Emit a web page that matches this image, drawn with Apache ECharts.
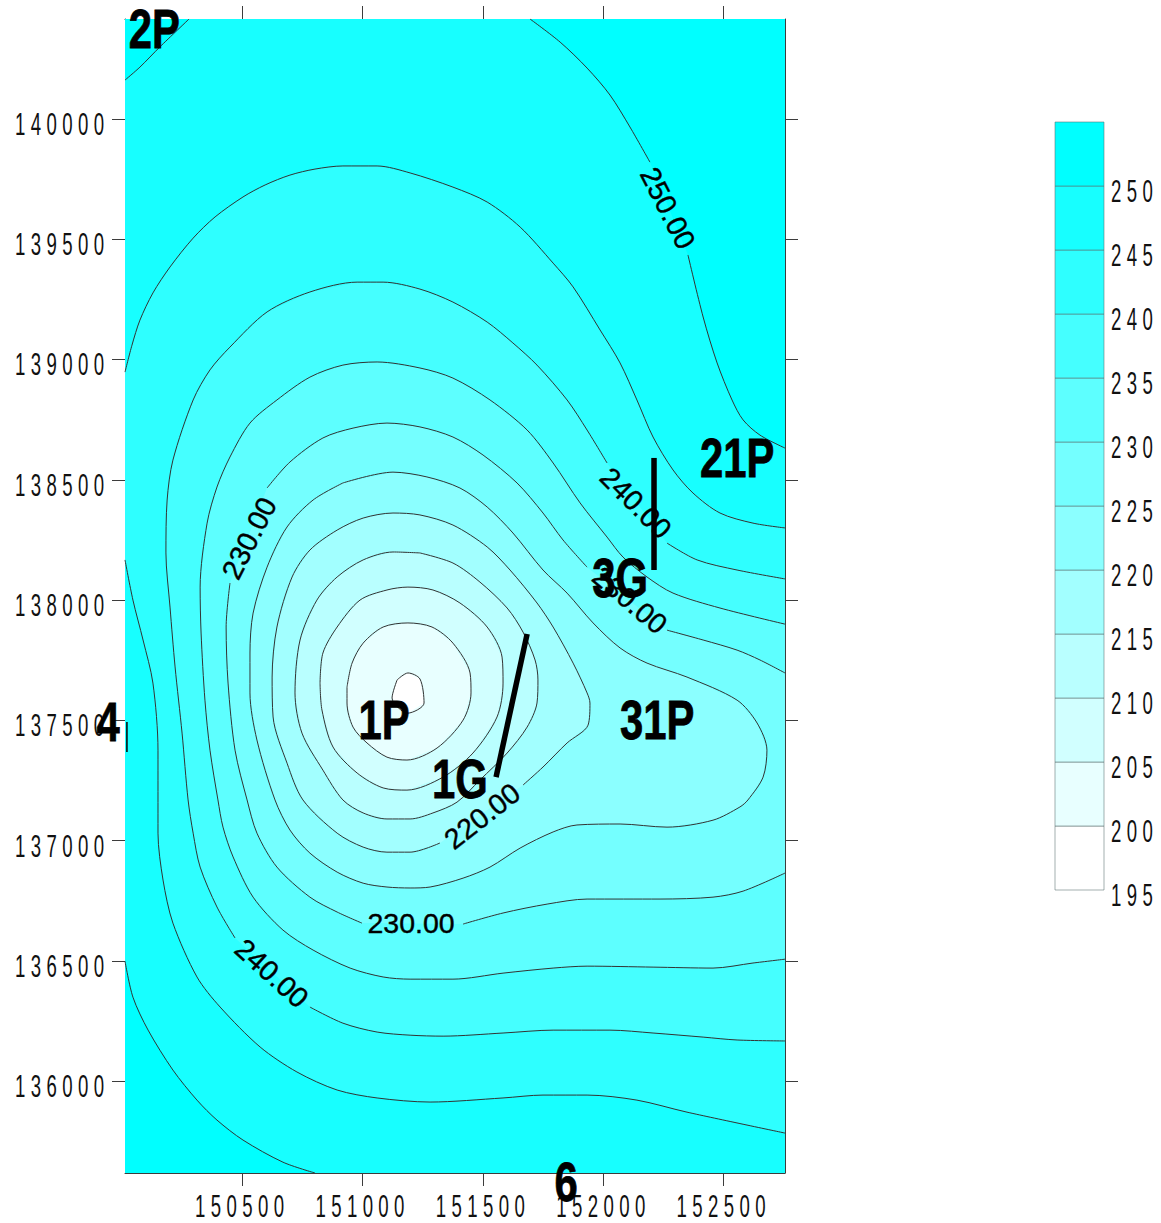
<!DOCTYPE html>
<html>
<head>
<meta charset="utf-8">
<style>
html,body{margin:0;padding:0;background:#fff}
#c{width:1161px;height:1223px}
text[style*="31px"]{letter-spacing:9px}
</style>
<script src="https://cdn.jsdelivr.net/npm/echarts@6/dist/echarts.min.js"></script>
</head>
<body>
<div id="c"></div>
<script>
const xRange=[150014,152755];
const yRange=[135618,140416];
const xTicks=[150500,151000,151500,152000,152500];
const yTicks=[136000,136500,137000,137500,138000,138500,139000,139500,140000];
const scaleTicks=[195,200,205,210,215,220,225,230,235,240,245,250];
const bandColors=['#00FFFF','#17FFFF','#2EFFFF','#45FFFF','#5DFFFF','#74FFFF','#8BFFFF','#A2FFFF','#B9FFFF','#D1FFFF','#E8FFFF','#FFFFFF'];

const c250TopLeft=[[150014,140162],[150076,140216],[150159,140300],[150280,140416]];
const c250BottomLeft=[[150014,136499],[150047,136349],[150110,136212],[150213,136046],[150313,135921],[150396,135838],[150504,135755],[150670,135663],[150803,135618]];
const c250RightA=[[151696,140416],[151821,140320],[151933,140212],[152028,140100],[152111,139967],[152194,139821]];
const c250RightB=[[152352,139435],[152415,139177],[152473,138986],[152535,138832],[152581,138749],[152651,138686],[152755,138632]];

const c245Top=[[150014,138948],[150043,139060],[150076,139164],[150130,139277],[150201,139385],[150297,139505],[150388,139593],[150504,139676],[150596,139726],[150699,139767],[150803,139792],[150919,139805],[151061,139805],[151198,139776],[151376,139717],[151518,139655],[151655,139551],[151792,139401],[151875,139302],[151987,139123],[152070,138986],[152140,138832],[152207,138678],[152290,138541],[152373,138445],[152485,138362],[152622,138320],[152755,138300]];
const c245Bottom=[[150014,138167],[150047,138000],[150089,137834],[150130,137655],[150151,137376],[150151,137031],[150172,136836],[150213,136657],[150313,136433],[150409,136308],[150575,136142],[150728,136038],[150895,135963],[151061,135930],[151281,135913],[151584,135930],[151750,135942],[151933,135942],[152140,135921],[152348,135871],[152755,135784]];

const c240A=[[152755,138088],[152556,138125],[152390,138167],[152265,138237]];
const c240B=[[152016,138570],[151933,138707],[151850,138832],[151725,138977],[151625,139069],[151518,139156],[151376,139239],[151239,139293],[151086,139322],[150978,139322],[150782,139281],[150604,139198],[150450,139052],[150367,138957],[150297,138832],[150213,138582],[150189,138416],[150184,138196],[150201,137971],[150222,137722],[150251,137447],[150276,137169],[150297,137031],[150326,136890],[150396,136724],[150471,136595]];
const c240C=[[150782,136308],[150919,136241],[151061,136204],[151198,136191],[151335,136187],[151584,136200],[151792,136212],[152028,136212],[152207,136200],[152415,136183],[152556,136171],[152755,136167]];

const c235=[[152755,137900],[152485,137967],[152290,138029],[152182,138096],[152082,138179],[152016,138262],[151904,138404],[151792,138570],[151684,138707],[151530,138832],[151376,138923],[151239,138965],[151061,138990],[150919,138977],[150782,138927],[150645,138832],[150533,138736],[150450,138595],[150396,138470],[150355,138320],[150326,138054],[150330,137863],[150346,137584],[150367,137376],[150400,137169],[150421,137056],[150463,136932],[150546,136765],[150670,136628],[150795,136545],[150949,136470],[151086,136433],[151198,136424],[151376,136424],[151584,136449],[151792,136470],[151933,136478],[152207,136474],[152456,136470],[152622,136491],[152755,136507]];

const c230A=[[152755,137697],[152651,137751],[152556,137792],[152415,137834],[152265,137875]];
const c230B=[[151933,138137],[151833,138250],[151750,138362],[151642,138487],[151501,138603],[151376,138678],[151239,138720],[151102,138736],[150961,138715],[150836,138674],[150699,138574],[150604,138466]];
const c230C=[[150450,138071],[150434,137888],[150442,137655],[150471,137376],[150521,137169],[150562,137031],[150645,136890],[150782,136765],[150895,136703],[150998,136657]];
const c230D=[[151418,136653],[151584,136699],[151767,136736],[151933,136757],[152236,136757],[152456,136765],[152581,136790],[152755,136865]];

const c225=[[150919,138487],[151127,138532],[151268,138512],[151405,138466],[151518,138387],[151625,138279],[151750,138125],[151850,138029],[151958,137905],[152070,137801],[152182,137738],[152348,137680],[152556,137584],[152639,137489],[152680,137376],[152664,137264],[152601,137169],[152568,137140],[152456,137085],[152265,137056],[152070,137069],[151891,137065],[151792,137036],[151655,136969],[151530,136890],[151418,136844],[151281,136807],[151198,136803],[151102,136807],[151003,136823],[150895,136869],[150782,136948],[150699,137044],[150637,137169],[150562,137418],[150533,137614],[150533,137780],[150546,137946],[150604,138137],[150687,138304],[150795,138416],[150919,138487]];

const c220=[[151322,136990],[151198,136952],[151102,136952],[151003,136973],[150895,137031],[150753,137169],[150687,137322],[150629,137514],[150625,137680],[150645,137888],[150708,138096],[150782,138208],[150895,138291],[151003,138341],[151127,138362],[151239,138354],[151376,138312],[151518,138221],[151613,138125],[151725,137988],[151792,137888],[151875,137738],[151933,137614],[151945,137572],[151937,137480],[151850,137406],[151750,137306],[151667,137231]];

const c215=[[151239,138196],[151376,138154],[151488,138075],[151601,137967],[151667,137867],[151717,137751],[151729,137668],[151725,137572],[151684,137472],[151601,137364],[151488,137252],[151393,137160],[151293,137115],[151198,137090],[151102,137090],[151003,137115],[150919,137169],[150836,137293],[150749,137447],[150720,137614],[150741,137834],[150811,138000],[150895,138096],[151003,138167],[151127,138200],[151239,138196]];
const c210=[[150824,137655],[150836,137780],[150895,137888],[150990,138000],[151102,138042],[151189,138054],[151293,138042],[151405,137988],[151518,137888],[151580,137763],[151584,137655],[151559,137514],[151459,137364],[151335,137264],[151185,137210],[151086,137219],[150978,137281],[150878,137389],[150832,137543],[150824,137655]];
const c205=[[150936,137638],[150957,137738],[151003,137821],[151086,137888],[151189,137905],[151289,137888],[151376,137821],[151447,137697],[151451,137614],[151418,137501],[151310,137385],[151185,137335],[151102,137347],[151019,137406],[150961,137472],[150936,137572],[150936,137638]];
const c200=[[151144,137668],[151189,137697],[151239,137672],[151256,137572],[151189,137530],[151123,137593],[151144,137668]];

const wellNames=['2P','21P','3G','1P','1G','31P','4','6'];
const wellPoints=[[150136,140375],[152556,138591],[152070,138092],[151090,137501],[151405,137256],[152224,137501],[149944,137493],[151846,135580]];
const traceOneG=[[151684,137859],[151555,137264]];
const traceThreeG=[[152211,138591],[152211,138125]];
const traceFour=[[150022,137493],[150022,137368]];

const contourLabelText=['250.00','240.00','230.00','230.00','220.00','230.00','240.00'];
const contourLabelPoints=[[152269,139630],[152136,138404],[152111,138000],[150529,138258],[151497,137102],[151202,136657],[150624,136449]];
const contourLabelAngles=[-63,-45,-40,63,38,0,-42];

const [x0,x1]=xRange,[y0,y1]=yRange;
const fills=[
  {pts:[[x0,y0],[x0,y1],[x1,y1],[x1,y0]],c:1},
  {pts:[...c250TopLeft,[x0,y1]],c:0},
  {pts:[...c250BottomLeft,[x0,y0]],c:0},
  {pts:[...c250RightA,...c250RightB,[x1,y1]],c:0},
  {pts:[...c245Top,...[...c245Bottom].reverse()],c:2},
  {pts:[...c240A,...c240B,...c240C],c:3},
  {pts:c235,c:4},
  {pts:[...c230A,...c230B,...c230C,...c230D],c:5},
  {pts:c225,c:6},
  {pts:c220,c:7},
  {pts:c215,c:8},
  {pts:c210,c:9},
  {pts:c205,c:10},
  {pts:c200,c:11}
];
const segments=[c250TopLeft,c250BottomLeft,c250RightA,c250RightB,c245Top,c245Bottom,c240A,c240B,c240C,c235,c230A,c230B,c230C,c230D,c225,c220,c215,c210,c205,c200];

const frame='#3c3c3c';
const tick={show:true,length:13,inside:false,lineStyle:{color:frame,width:1}};
const axisBase={type:'value',splitLine:{show:false},axisLine:{show:true,onZero:false,lineStyle:{color:frame,width:1}},axisLabel:{show:false}};
const TICK_FONT='31px "Liberation Sans"';
const tickText=(v,x,y)=>({type:'text',x,y,scaleX:0.6,silent:true,
  style:{text:String(v),font:TICK_FONT,fill:'#111',textAlign:'left',textVerticalAlign:'middle'}});

const chart=echarts.init(document.getElementById('c'),null,{renderer:'svg'});
chart.setOption({
  animation:false,
  backgroundColor:'#fff',
  grid:[
    {left:125,top:19,width:660,height:1154},
    {left:1055,top:122,width:49,height:768}
  ],
  xAxis:[
    {...axisBase,gridIndex:0,position:'bottom',min:x0,max:x1,axisTick:{...tick,customValues:xTicks}},
    {...axisBase,gridIndex:0,position:'top',min:x0,max:x1,axisTick:{...tick,customValues:xTicks}},
    {type:'value',gridIndex:1,min:0,max:1,show:false}
  ],
  yAxis:[
    {...axisBase,gridIndex:0,position:'left',min:y0,max:y1,axisTick:{...tick,customValues:yTicks}},
    {...axisBase,gridIndex:0,position:'right',min:y0,max:y1,axisTick:{...tick,customValues:yTicks}},
    {type:'value',gridIndex:1,min:195,max:255,show:false}
  ],
  series:[
    {type:'custom',xAxisIndex:0,yAxisIndex:0,silent:true,clip:true,z:1,
      data:fills.map((f,i)=>[x0,y0,i]),
      renderItem:(p,api)=>{const f=fills[api.value(2)];
        return {type:'polygon',shape:{points:f.pts.map(q=>api.coord(q))},style:{fill:bandColors[f.c],stroke:null}};}},
    ...segments.map(s=>({type:'line',xAxisIndex:0,yAxisIndex:0,data:s,showSymbol:false,silent:true,z:2,clip:true,smooth:0.3,
      lineStyle:{color:'#333',width:1}})),
    {type:'custom',xAxisIndex:2,yAxisIndex:2,silent:true,z:3,
      data:scaleTicks.map((v,i)=>[0,v,v+5,11-i]),
      renderItem:(p,api)=>{const a=api.coord([0,api.value(2)]),b=api.coord([1,api.value(1)]);
        return {type:'rect',shape:{x:a[0],y:a[1],width:b[0]-a[0],height:b[1]-a[1]},style:{fill:bandColors[api.value(3)],stroke:'rgba(90,110,110,0.55)',lineWidth:1}};}},
    ...[traceOneG,traceThreeG].map(t=>({type:'line',xAxisIndex:0,yAxisIndex:0,data:t,showSymbol:false,silent:true,z:5,clip:false,lineStyle:{color:'#000',width:5.5,cap:'butt'}})),
    {type:'line',xAxisIndex:0,yAxisIndex:0,data:traceFour,showSymbol:false,silent:true,z:5,clip:false,lineStyle:{color:'#000',width:1.5}},
    {type:'custom',xAxisIndex:0,yAxisIndex:0,silent:true,z:8,clip:false,
      data:xTicks.map(v=>[v,y0]),
      renderItem:(p,api)=>{const q=api.coord([api.value(0),y0]);return tickText(api.value(0),q[0]-47,q[1]+33.5);}},
    {type:'custom',xAxisIndex:0,yAxisIndex:0,silent:true,z:4,clip:false,
      data:yTicks.map(v=>[x0,v]),
      renderItem:(p,api)=>{const q=api.coord([x0,api.value(1)]);return tickText(api.value(1),q[0]-110,q[1]+5);}},
    {type:'custom',xAxisIndex:2,yAxisIndex:2,silent:true,z:4,clip:false,
      data:scaleTicks.map(v=>[1,v]),
      renderItem:(p,api)=>{const q=api.coord([1,api.value(1)]);return tickText(api.value(1),q[0]+7,q[1]+5);}},
    {type:'custom',xAxisIndex:0,yAxisIndex:0,silent:true,z:6,clip:false,
      data:contourLabelPoints.map((q,i)=>[q[0],q[1],i]),
      renderItem:(p,api)=>{const i=api.value(2),q=api.coord(contourLabelPoints[i]);
        return {type:'text',x:q[0],y:q[1],rotation:contourLabelAngles[i]*Math.PI/180,
          style:{text:contourLabelText[i],font:'28.5px "Liberation Sans"',fill:'#000',stroke:'#000',lineWidth:0.4,textAlign:'center',textVerticalAlign:'middle'}};}},
    {type:'custom',xAxisIndex:0,yAxisIndex:0,silent:true,z:9,clip:false,
      data:wellPoints.map((q,i)=>[q[0],q[1],i]),
      renderItem:(p,api)=>{const i=api.value(2),q=api.coord(wellPoints[i]);
        return {type:'text',x:q[0],y:q[1],scaleX:0.76,
          style:{text:wellNames[i],font:'bold 55px "Liberation Sans"',fill:'#000',stroke:'#000',lineWidth:0.8,textAlign:'center',textVerticalAlign:'middle'}};}}
  ]
});
</script>
</body>
</html>
